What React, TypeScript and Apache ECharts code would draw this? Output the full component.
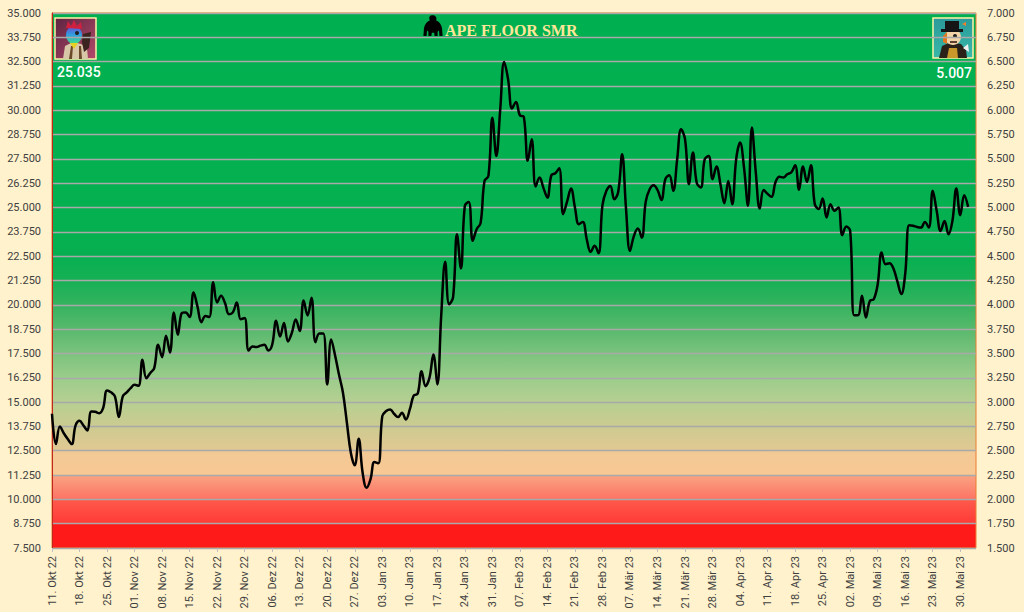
import React, { useEffect, useRef } from "react";
import * as echarts from "echarts";

// ---------- DATA ----------
const MONTHS_DE = ["Jan", "Feb", "Mär", "Apr", "Mai", "Jun", "Jul", "Aug", "Sep", "Okt", "Nov", "Dez"];
const START_DATE = [2022, 9, 11]; // 11. Okt 22
const AXIS_DAYS = 236;

const okt22 = [14.4, 12.84, 13.75, 13.4, 13.1, 12.84, 13.8, 14.04, 13.8, 13.54, 14.52, 14.5, 14.43, 14.69, 15.6, 15.5, 15.29, 14.23, 15.29, 15.5, 15.72];
const nov22 = [15.89, 15.84, 17.17, 16.23, 16.5, 16.75, 17.95, 17.31, 18.41, 17.55, 19.61, 18.46, 19.57, 19.61, 19.37, 20.63, 19.91, 19.11, 19.43, 19.37, 21.16, 20.12, 20.46, 20.09, 19.52, 19.61, 20.12, 19.26, 19.32, 17.65];
const dez22 = [17.86, 17.83, 17.9, 17.95, 17.65, 17.95, 19.18, 18.37, 19.06, 18.12, 18.56, 19.25, 18.65, 20.22, 19.45, 20.36, 18.08, 18.53, 18.53, 15.91, 18.22, 17.4, 16.4, 15.48, 13.94, 12.4, 11.75, 13.12, 11.37, 10.6, 11.03];
const jan23 = [11.92, 11.85, 14.28, 14.54, 14.62, 14.4, 14.23, 14.45, 14.11, 14.62, 15.34, 15.43, 16.59, 15.82, 16.25, 17.45, 15.91, 19.5, 22.21, 20.03, 20.38, 23.63, 21.87, 25.09, 25.29, 23.29, 23.89, 24.2, 26.37, 26.63, 29.62];
const feb23 = [27.65, 30.05, 32.48, 31.59, 30.09, 30.43, 29.74, 29.66, 27.4, 28.51, 26.08, 26.54, 26.0, 25.51, 26.66, 26.76, 27.02, 24.66, 25.3, 25.98, 25.0, 24.14, 24.26, 23.37, 22.72, 23.03, 22.65, 25.12];
const mar23 = [25.86, 26.11, 25.43, 25.8, 27.74, 24.91, 22.77, 23.54, 23.92, 23.46, 25.3, 25.94, 26.15, 25.9, 25.39, 26.46, 26.66, 25.86, 27.48, 29.02, 28.51, 26.2, 27.83, 26.25, 26.03, 27.48, 27.65, 26.46, 27.11, 26.2, 25.22];
const apr23 = [26.37, 25.17, 27.48, 28.34, 27.05, 25.09, 29.11, 26.8, 24.95, 25.9, 25.7, 25.55, 26.3, 26.58, 26.54, 26.71, 26.8, 27.17, 25.91, 27.11, 26.32, 27.17, 25.17, 24.93, 25.46, 24.49, 25.17, 24.83, 25.0, 23.58];
const mai23 = [24.02, 23.8, 19.47, 19.47, 20.46, 19.35, 20.2, 20.29, 21.06, 22.69, 22.09, 22.14, 21.87, 21.2, 20.55, 21.6, 24.09, 24.06, 24.0, 23.97, 24.26, 23.97, 25.86, 24.83, 23.8, 24.31, 23.63, 24.31, 25.98, 24.61, 25.63];
const jun23 = [25.035];

const LEFT_AXIS = { min: 7.5, max: 35, interval: 1.25 };
const RIGHT_AXIS = { min: 1.5, max: 7, interval: 0.25 };
const TITLE = "APE FLOOR SMR";
const LEFT_VALUE = "25.035";
const RIGHT_VALUE = "5.007";

const floorValues = [...okt22, ...nov22, ...dez22, ...jan23, ...feb23, ...mar23, ...apr23, ...mai23, ...jun23];

function buildDates(): string[] {
  const out: string[] = [];
  for (let i = 0; i < AXIS_DAYS; i++) {
    const d = new Date(START_DATE[0], START_DATE[1], START_DATE[2] + i);
    const dd = String(d.getDate()).padStart(2, "0");
    const yy = String(d.getFullYear()).slice(2);
    out.push(`${dd}. ${MONTHS_DE[d.getMonth()]} ${yy}`);
  }
  return out;
}

const GORILLA =
  "M34 6 C40 0 56 0 62 6 C68 12 68 20 66 26 C80 30 92 44 95 62 L98 100 L82 100 L80 74 L73 80 L73 100 L58 100 L56 84 L44 84 L42 100 L27 100 L27 80 L20 74 L18 100 L2 100 L5 62 C8 44 20 30 34 26 C31 20 30 12 34 6 Z";

export default function App() {
  const ref = useRef<HTMLDivElement>(null);

  useEffect(() => {
    document.body.style.margin = "0";
    if (!ref.current) return;
    echarts.graphic.registerShape("gorilla", echarts.graphic.extendPath(GORILLA, {}) as any);
    const chart = echarts.init(ref.current, undefined, { renderer: "svg" });
    const dates = buildDates();
    const labelFont = { fontFamily: "Roboto", fontSize: 11, color: "#404040" };

    const bg = new echarts.graphic.LinearGradient(0, 0, 0, 1, [
      { offset: 0, color: "#00b050" },
      { offset: 0.4545, color: "#06b050" },
      { offset: 0.5, color: "#17b055" },
      { offset: 0.5455, color: "#35b35f" },
      { offset: 0.5909, color: "#58b96c" },
      { offset: 0.6364, color: "#7bc37e" },
      { offset: 0.6818, color: "#9bcc8b" },
      { offset: 0.7273, color: "#b6d092" },
      { offset: 0.7727, color: "#cccb90" },
      { offset: 0.8182, color: "#e2c893" },
      { offset: 0.8186, color: "#f2c995" },
      { offset: 0.8636, color: "#f8c893" },
      { offset: 0.864, color: "#f9a482" },
      { offset: 0.9091, color: "#fd7264" },
      { offset: 0.9095, color: "#ff5a4c" },
      { offset: 0.9545, color: "#ff3a36" },
      { offset: 0.955, color: "#ff1a1a" },
      { offset: 1, color: "#ff1a1a" },
    ]);

    const option: any = {
      animation: false,
      backgroundColor: "#fff2cc",
      grid: {
        left: 52,
        right: 48,
        top: 13,
        bottom: 64,
        show: true,
        backgroundColor: bg,
        borderColor: "#ed7d31",
        borderWidth: 1,
      },
      xAxis: {
        type: "category",
        boundaryGap: false,
        data: dates,
        axisLine: { show: false },
        axisTick: {
          show: true,
          interval: (i: number) => i % 7 === 0,
          length: 4,
          lineStyle: { color: "#bfbfbf" },
        },
        axisLabel: {
          ...labelFont,
          rotate: 90,
          margin: 8,
          interval: (i: number) => i % 7 === 0,
        },
        splitLine: { show: false },
      },
      yAxis: [
        {
          type: "value",
          position: "left",
          min: LEFT_AXIS.min,
          max: LEFT_AXIS.max,
          interval: LEFT_AXIS.interval,
          axisLine: { show: true, lineStyle: { color: "#c0281e", width: 1 } },
          axisTick: { show: false },
          axisLabel: { ...labelFont, margin: 11, formatter: (v: number) => v.toFixed(3) },
          splitLine: { show: true, lineStyle: { color: "#a9a9a9", width: 1.3 } },
        },
        {
          type: "value",
          position: "right",
          min: RIGHT_AXIS.min,
          max: RIGHT_AXIS.max,
          interval: RIGHT_AXIS.interval,
          axisLine: { show: false },
          axisTick: { show: false },
          axisLabel: { ...labelFont, margin: 11, formatter: (v: number) => v.toFixed(3) },
          splitLine: { show: false },
        },
      ],
      series: [
        {
          type: "line",
          data: floorValues,
          yAxisIndex: 0,
          smooth: 0.4,
          showSymbol: false,
          symbol: "none",
          lineStyle: { color: "#000000", width: 2.5 },
          z: 5,
        },
      ],
      graphic: [
        // title
        {
          type: "gorilla",
          x: 423,
          y: 15,
          scaleX: 0.2,
          scaleY: 0.21,
          style: { fill: "#000000" },
          z: 10,
        },
        {
          type: "text",
          x: 445,
          y: 30,
          style: {
            text: TITLE,
            fill: "#ffe699",
            font: "bold 16px 'Liberation Serif'",
            textAlign: "left",
            textVerticalAlign: "middle",
          },
          z: 10,
        },
        // left avatar
        {
          type: "group",
          x: 55,
          y: 18,
          z: 10,
          children: [
            {
              type: "rect",
              shape: { x: 0, y: 0, width: 41, height: 41 },
              style: {
                fill: new echarts.graphic.LinearGradient(0, 0, 1, 1, [
                  { offset: 0, color: "#5c2440" },
                  { offset: 1, color: "#b44a6a" },
                ]),
                stroke: "#fff2a8",
                lineWidth: 1.5,
              },
            },
            { type: "polygon", shape: { points: [[8, 41], [10, 28], [18, 24], [26, 26], [32, 30], [33, 41]] }, style: { fill: "#d8c8a8" } },
            { type: "polygon", shape: { points: [[14, 41], [16, 28], [18, 28], [17, 41]] }, style: { fill: "#6b4a2a" } },
            { type: "polygon", shape: { points: [[24, 41], [24, 28], [26, 28], [27, 41]] }, style: { fill: "#6b4a2a" } },
            {
              type: "ellipse",
              shape: { cx: 19, cy: 17, rx: 8, ry: 9 },
              style: {
                fill: new echarts.graphic.LinearGradient(0, 0, 0, 1, [
                  { offset: 0, color: "#6a4ad0" },
                  { offset: 0.5, color: "#30a0e0" },
                  { offset: 1, color: "#40e080" },
                ]),
              },
            },
            { type: "polygon", shape: { points: [[11, 10], [13, 3], [16, 8], [19, 2], [22, 8], [26, 4], [27, 11]] }, style: { fill: "#d02040" } },
            { type: "circle", shape: { cx: 22, cy: 15, r: 2 }, style: { fill: "#202020" } },
            { type: "polygon", shape: { points: [[28, 16], [36, 14], [34, 30], [29, 34], [27, 24]] }, style: { fill: "#3a2420" } },
            { type: "polygon", shape: { points: [[15, 25], [23, 25], [19, 31]] }, style: { fill: "#e8d020" } },
          ],
        },
        {
          type: "text",
          x: 57,
          y: 72,
          style: {
            text: LEFT_VALUE,
            fill: "#ffffff",
            font: "500 14px Roboto",
            textAlign: "left",
            textVerticalAlign: "middle",
          },
          z: 10,
        },
        // right avatar
        {
          type: "group",
          x: 933,
          y: 18,
          z: 10,
          children: [
            {
              type: "rect",
              shape: { x: 0, y: 0, width: 40, height: 40 },
              style: {
                fill: new echarts.graphic.LinearGradient(0, 0, 0, 1, [
                  { offset: 0, color: "#2a9a9a" },
                  { offset: 1, color: "#38b8a8" },
                ]),
                stroke: "#fff2a8",
                lineWidth: 1.5,
              },
            },
            { type: "polygon", shape: { points: [[6, 40], [9, 28], [18, 24], [28, 26], [33, 32], [34, 40]] }, style: { fill: "#2a2218" } },
            { type: "polygon", shape: { points: [[14, 40], [16, 30], [24, 30], [25, 40]] }, style: { fill: "#c8982a" } },
            { type: "ellipse", shape: { cx: 20, cy: 19, rx: 8, ry: 8 }, style: { fill: "#f0d4a8" } },
            { type: "polygon", shape: { points: [[10, 18], [14, 14], [14, 26], [10, 24]] }, style: { fill: "#e07820" } },
            { type: "rect", shape: { x: 12, y: 3, width: 14, height: 9 }, style: { fill: "#151515" } },
            { type: "rect", shape: { x: 8, y: 11, width: 22, height: 3 }, style: { fill: "#151515" } },
            { type: "circle", shape: { cx: 22, cy: 18, r: 2 }, style: { fill: "#202020" } },
            { type: "rect", shape: { x: 17, y: 23, width: 7, height: 2 }, style: { fill: "#604030" } },
            { type: "polygon", shape: { points: [[29, 6], [33, 4], [33, 8]] }, style: { fill: "#f08030" } },
            { type: "polygon", shape: { points: [[30, 30], [35, 26], [36, 34]] }, style: { fill: "#f0f0f0" } },
          ],
        },
        {
          type: "text",
          x: 972,
          y: 73,
          style: {
            text: RIGHT_VALUE,
            fill: "#ffffff",
            font: "500 14px Roboto",
            textAlign: "right",
            textVerticalAlign: "middle",
          },
          z: 10,
        },
      ],
    };

    chart.setOption(option);
    return () => {
      chart.dispose();
    };
  }, []);

  return (
    <div
      ref={ref}
      style={{ position: "fixed", left: 0, top: 0, width: 1024, height: 612 }}
    />
  );
}
